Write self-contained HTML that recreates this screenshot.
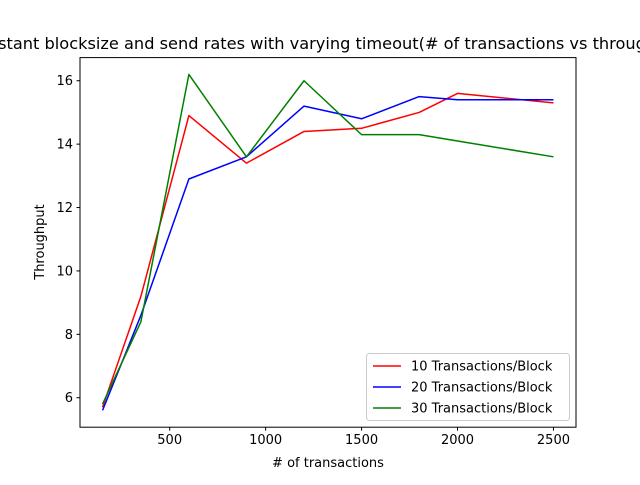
<!DOCTYPE html>
<html><head><meta charset="utf-8"><style>
html,body{margin:0;padding:0;background:#fff;overflow:hidden}
text{font-family:"DejaVu Sans","Liberation Sans",sans-serif;fill:#000}
</style></head><body>
<svg id="chart" width="640" height="480" viewBox="0 0 640 480" xmlns="http://www.w3.org/2000/svg"></svg>
<script>
const categories=[150,350,600,900,1200,1500,1800,2000,2500];
const series10=[5.7,9.2,14.9,13.4,14.4,14.5,15.0,15.6,15.3];
const series20=[5.6,8.6,12.9,13.6,15.2,14.8,15.5,15.4,15.4];
const series30=[5.8,8.4,16.2,13.6,16.0,14.3,14.3,14.1,13.6];
const xTicks=[500,1000,1500,2000,2500];
const yTicks=[6,8,10,12,14,16];
const seriesNames=["10 Transactions/Block","20 Transactions/Block","30 Transactions/Block"];
const colors=["#ff0000","#0000ff","#008000"];

const L=80,R=576,T=57.6,B=427.2;
const xmin=32.5,xmax=2617.5,ymin=5.07,ymax=16.73;
const sx=v=>L+(v-xmin)/(xmax-xmin)*(R-L);
const sy=v=>B-(v-ymin)/(ymax-ymin)*(B-T);
const svg=document.getElementById('chart');
const NS="http://www.w3.org/2000/svg";
function mk(tag,attrs,parent){const e=document.createElementNS(NS,tag);for(const k in attrs)e.setAttribute(k,attrs[k]);(parent||svg).appendChild(e);return e;}

const title=mk('text',{x:328,y:49,'font-size':16.2,'text-anchor':'middle'});


title.textContent="Constant blocksize and send rates with varying timeout(# of transactions vs throughput)";

[series10,series20,series30].forEach((s,i)=>{
  const pts=categories.map((c,j)=>sx(c)+','+sy(s[j])).join(' ');
  const pl=mk('polyline',{points:pts,fill:'none',stroke:colors[i],'stroke-width':1.5,'stroke-linejoin':'round'});
  
  
});

const frame=mk('rect',{x:L,y:T,width:R-L,height:B-T,fill:'none',stroke:'#000','stroke-width':1});



xTicks.forEach(t=>{
  const x=sx(t);
  const tk=mk('line',{x1:x,x2:x,y1:B,y2:B+3.5,stroke:'#000'});
  
  
  const lb=mk('text',{x:x,y:B+17,'font-size':13,'text-anchor':'middle'});
  
  
  lb.textContent=t;
});
yTicks.forEach(t=>{
  const y=sy(t);
  const tk=mk('line',{x1:L-3.5,x2:L,y1:y,y2:y,stroke:'#000'});
  
  
  const lb=mk('text',{x:L-7,y:y+4.5,'font-size':13,'text-anchor':'end'});
  
  
  lb.textContent=t;
});

const xt=mk('text',{x:328,y:467,'font-size':13,'text-anchor':'middle'});


xt.textContent="# of transactions";
const yt=mk('text',{x:0,y:0,'font-size':13,'text-anchor':'middle',transform:'translate(44,242) rotate(-90)'});


yt.textContent="Throughput";

const lg=mk('g',{});


mk('rect',{x:366.5,y:353.5,width:203,height:67,rx:3,fill:'#fff','fill-opacity':0.8,stroke:'#ccc'},lg);
seriesNames.forEach((n,i)=>{
  const y=366+i*21;
  const g=mk('g',{},lg);
  
  
  mk('line',{x1:373,x2:401,y1:y,y2:y,stroke:colors[i],'stroke-width':1.5},g);
  const t=mk('text',{x:411,y:y+4.5,'font-size':13},g);
  t.textContent=n;
});
</script>
</body></html>
